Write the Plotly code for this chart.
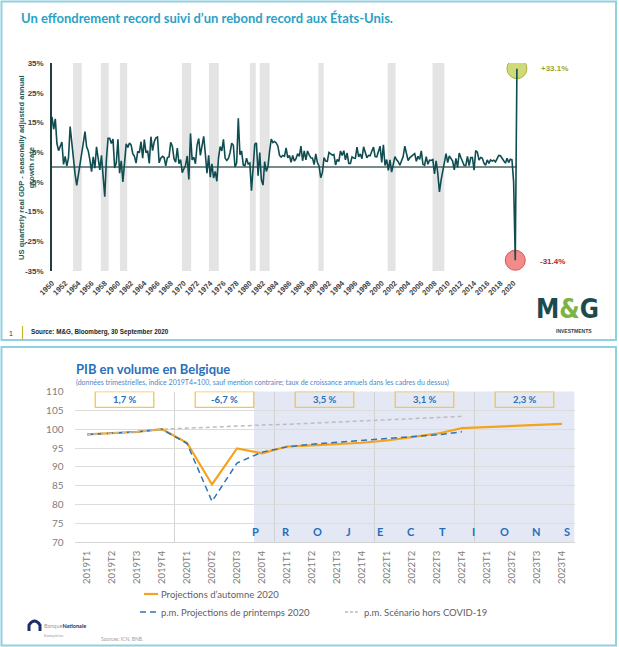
import plotly.graph_objects as go

W, H = 619, 647
def px(x): return x / W
def py(y): return 1 - y / H

# ---------------- Top chart data: US quarterly real GDP growth (annualised, %) ----------------
us_first_year = 1950
us_growth = [
    16.9, 12.7, 16.2, 7.9,     # 1950
    5.5, 7.1, 8.4, 0.9,        # 1951
    3.6, 0.4, 3.1, 13.6,       # 1952
    7.6, 3.1, -2.4, -6.2,      # 1953
    -2.0, 0.4, 4.6, 8.1,       # 1954
    11.9, 6.8, 5.4, 2.3,       # 1955
    -1.6, 3.4, -0.4, 6.8,      # 1956
    2.6, -1.0, 3.9, -4.1,      # 1957
    -10.0, 2.6, 9.7, 9.7,      # 1958
    7.9, 9.4, -0.3, 1.4,       # 1959
    9.3, -2.1, 2.1, -5.0,      # 1960
    2.7, 7.8, 6.6, 8.1,        # 1961
    7.4, 4.5, 3.6, 1.3,        # 1962
    5.3, 4.8, 8.5, 3.0,        # 1963
    9.2, 4.8, 5.5, 1.2,        # 1964
    10.2, 5.5, 8.5, 9.8,       # 1965
    10.1, 1.4, 3.0, 3.6,       # 1966
    3.2, 0.4, 3.2, 3.4,        # 1967
    8.3, 7.0, 2.8, 1.6,        # 1968
    6.4, 1.1, 2.5, -1.9,       # 1969
    -0.6, 0.6, 3.7, -4.2,      # 1970
    11.3, 2.4, 3.3, 1.1,       # 1971
    7.4, 9.6, 3.9, 6.9,        # 1972
    10.3, 4.5, -2.1, 3.9,      # 1973
    -3.4, 1.1, -3.7, -1.5,     # 1974
    -4.8, 3.1, 6.9, 5.4,       # 1975
    9.3, 3.0, 2.2, 2.9,        # 1976
    4.8, 8.0, 7.3, 0.0,        # 1977
    1.3, 16.4, 4.1, 5.4,       # 1978
    0.7, 0.4, 3.0, 1.0,        # 1979
    1.3, -8.0, -0.5, 7.7,      # 1980
    8.1, -2.9, 4.9, -4.3,      # 1981
    -6.1, 1.8, -1.5, 0.2,      # 1982
    5.4, 9.4, 8.2, 8.6,        # 1983
    8.1, 7.1, 3.9, 3.3,        # 1984
    3.9, 3.6, 6.4, 3.1,        # 1985
    3.9, 1.6, 3.9, 2.0,        # 1986
    2.8, 4.5, 3.6, 7.0,        # 1987
    2.1, 5.4, 2.4, 5.4,        # 1988
    4.1, 3.1, 3.0, 0.8,        # 1989
    4.4, 1.5, 0.3, -3.6,       # 1990
    -1.9, 3.2, 2.0, 1.9,       # 1991
    4.9, 4.4, 4.0, 4.2,        # 1992
    0.7, 2.5, 1.9, 5.4,        # 1993
    3.9, 5.5, 2.4, 4.7,        # 1994
    1.2, 1.2, 3.4, 3.0,        # 1995
    2.9, 6.7, 3.4, 4.4,        # 1996
    2.8, 6.8, 5.1, 3.1,        # 1997
    3.9, 3.8, 5.3, 6.7,        # 1998
    3.5, 3.4, 5.2, 7.0,        # 1999
    1.5, 7.5, 0.5, 2.5,        # 2000
    -1.1, 2.4, -1.7, 1.1,      # 2001
    3.5, 2.4, 1.8, 0.6,        # 2002
    2.2, 3.5, 7.0, 4.7,        # 2003
    2.2, 3.1, 3.8, 4.1,        # 2004
    4.5, 1.9, 3.6, 2.6,        # 2005
    5.4, 0.9, 0.6, 3.5,        # 2006
    0.9, 2.3, 2.2, 2.5,        # 2007
    -2.3, 2.1, -2.1, -8.4,     # 2008
    -4.4, -0.6, 1.5, 4.5,      # 2009
    1.5, 3.7, 3.0, 2.0,        # 2010
    -1.0, 2.9, -0.1, 4.7,      # 2011
    3.2, 1.7, 0.5, 0.5,        # 2012
    3.6, 0.5, 3.2, 3.2,        # 2013
    -1.1, 5.5, 5.0, 2.3,       # 2014
    3.2, 3.0, 1.3, 0.6,        # 2015
    2.4, 1.2, 2.4, 2.0,        # 2016
    2.3, 1.7, 2.9, 3.9,        # 2017
    3.8, 2.7, 2.1, 1.3,        # 2018
    2.9, 1.5, 2.6, 2.4,        # 2019
    -5.0, -31.4, 33.1,         # 2020
]
us_x = [us_first_year + i / 4 for i in range(len(us_growth))]
us_year_ticks = list(range(1950, 2021, 2))
us_y_ticks = [35, 25, 15, 5, -5, -15, -25, -35]
recession_start = [1953.2, 1957.4, 1960.3, 1969.7, 1973.8, 1980.0, 1981.5, 1990.4, 2000.9, 2007.7]
recession_end = [1954.5, 1958.6, 1961.4, 1971.1, 1975.3, 1980.9, 1983.0, 1991.2, 2002.1, 2009.5]
us_high_label = "+33.1%"
us_low_label = "-31.4%"

# ---------------- Bottom chart data: Belgian GDP volume index ----------------
quarters = ["2019T1", "2019T2", "2019T3", "2019T4",
            "2020T1", "2020T2", "2020T3", "2020T4",
            "2021T1", "2021T2", "2021T3", "2021T4",
            "2022T1", "2022T2", "2022T3", "2022T4",
            "2023T1", "2023T2", "2023T3", "2023T4"]
autumn_2020 = [98.6, 98.9, 99.3, 100.0, 96.4, 85.3, 94.9, 93.6, 95.4, 95.7,
               96.0, 96.4, 97.0, 97.8, 98.8, 100.3, 100.6, 100.9, 101.1, 101.4]
spring_2020 = [98.6, 98.9, 99.3, 100.0, 96.2, 80.8, 91.0, 93.9, 95.3, 96.0,
               96.5, 96.9, 97.4, 97.9, 98.5, 99.3]
no_covid = [98.6, 98.9, 99.3, 100.0, 100.3, 100.5, 100.8, 101.1, 101.3, 101.6,
            101.9, 102.1, 102.4, 102.7, 103.0, 103.4]
annual_growth = ["1,7 %", "-6,7 %", "3,5 %", "3,1 %", "2,3 %"]
projection_letters = list("PROJECTIONS")
projection_start = 6.68

bx = list(range(len(quarters)))

TEAL = "#0f4d51"
fig = go.Figure()

# ---- top traces ----
fig.add_trace(go.Scatter(
    x=[us_x[-2], us_x[-1]], y=[us_growth[-2], us_growth[-1]], mode="markers",
    marker=dict(size=20, color=["rgba(240,120,120,0.85)", "rgba(200,212,100,0.85)"],
                line=dict(color=["#d9534f", "#a9b53c"], width=1)),
    xaxis="x", yaxis="y", showlegend=False, hoverinfo="skip"))
fig.add_trace(go.Scatter(
    x=us_x, y=us_growth, mode="lines", line=dict(color=TEAL, width=1.6),
    xaxis="x", yaxis="y", showlegend=False))

# ---- bottom traces ----
fig.add_trace(go.Scatter(x=bx, y=autumn_2020, mode="lines",
                         line=dict(color="#f5a31a", width=2.2),
                         xaxis="x2", yaxis="y2", showlegend=False))
fig.add_trace(go.Scatter(x=bx[:len(spring_2020)], y=spring_2020, mode="lines",
                         line=dict(color="#2e75b6", width=1.5, dash="6px,4px"),
                         xaxis="x2", yaxis="y2", showlegend=False))
fig.add_trace(go.Scatter(x=bx[:len(no_covid)], y=no_covid, mode="lines",
                         line=dict(color="#bdbdbd", width=1.5, dash="4px,3px"),
                         xaxis="x2", yaxis="y2", showlegend=False))

shapes = []
# panel borders
shapes.append(dict(type="rect", xref="paper", yref="paper", x0=px(1.5), x1=px(616), y0=py(340), y1=py(1.5),
                   line=dict(color="#8fd0e1", width=2), layer="below"))
shapes.append(dict(type="rect", xref="paper", yref="paper", x0=px(1.5), x1=px(616), y0=py(645.5), y1=py(347),
                   line=dict(color="#8fd0e1", width=2), layer="below"))
# recession bars
for s, e in zip(recession_start, recession_end):
    shapes.append(dict(type="rect", xref="x", yref="y domain", x0=s, x1=e, y0=0, y1=1,
                       fillcolor="#e4e4e4", line=dict(width=0), layer="below"))
# zero line
shapes.append(dict(type="line", xref="x", yref="y", x0=us_x[0], x1=us_x[-1], y0=0, y1=0,
                   line=dict(color="#4a6464", width=1.5), layer="below"))
# source bar
shapes.append(dict(type="line", xref="paper", yref="paper", x0=px(22.5), x1=px(22.5), y0=py(340), y1=py(326),
                   line=dict(color="#c9b734", width=1.2)))
# projection shading
shapes.append(dict(type="rect", xref="x2", yref="y2 domain", x0=projection_start, x1=len(quarters) - 0.5,
                   y0=0, y1=1, fillcolor="#e3e8f4", line=dict(width=0), layer="below"))
# growth boxes
for i, g in enumerate(annual_growth):
    c = 4 * i + 1.5
    shapes.append(dict(type="rect", xref="x2", yref="y2", x0=c - 1.17, x1=c + 1.17, y0=105.8, y1=110,
                       line=dict(color="#f3c748", width=1.3), fillcolor="rgba(0,0,0,0)"))
# manual legend samples
shapes.append(dict(type="line", xref="paper", yref="paper", x0=px(144), x1=px(158), y0=py(594), y1=py(594),
                   line=dict(color="#f5a31a", width=2.2)))
shapes.append(dict(type="line", xref="paper", yref="paper", x0=px(140), x1=px(157), y0=py(612), y1=py(612),
                   line=dict(color="#2e75b6", width=1.5, dash="6px,4px")))
shapes.append(dict(type="line", xref="paper", yref="paper", x0=px(345), x1=px(359), y0=py(612), y1=py(612),
                   line=dict(color="#bdbdbd", width=1.5, dash="3px,2px")))
# BNB logo arch
shapes.append(dict(type="path", xref="paper", yref="paper",
                   path=f"M {px(29)} {py(631)} L {px(29)} {py(625)} Q {px(34.5)} {py(617)} {px(40)} {py(625)} L {px(40)} {py(631)}",
                   line=dict(color="#1c2f6b", width=3)))

ann = []
def A(x, y, text, size, color, family="Liberation Sans", xanchor="left", weight="normal", **kw):
    ann.append(dict(x=px(x), y=py(y), xref="paper", yref="paper", text=text, showarrow=False,
                    xanchor=xanchor, yanchor="middle",
                    font=dict(size=size, color=color, family=family, weight=weight), **kw))

A(19, 18, "Un effondrement record suivi d’un rebond record aux États-Unis.", 13, "#2aa2c5", "Lato", weight=700)
A(26, 168, "US quarterly real GDP - seasonally adjusted annual<br>growth rate", 7.6, "#1e5b5e",
  xanchor="center", weight=700, textangle=-90)
A(539, 69, us_high_label, 8, "#9ba72b", weight=700)
A(538, 261, us_low_label, 8, "#b3232f", weight=700)
A(7, 333, "1", 7, "#333333")
A(29, 332, "Source: M&amp;G, Bloomberg, 30 September 2020", 6.3, "#222222", weight=700)
A(567, 309, "M<span style='color:#7cb342'>&amp;</span>G", 26, "#1b4b4f", "DejaVu Sans Condensed",
  xanchor="center", weight=700)
A(574, 331, "INVESTMENTS", 5, "#1b4b4f", xanchor="center", weight=700)

A(74, 369, "PIB en volume en Belgique", 13, "#2a6fba", "Lato", weight=700)
A(74, 382, "(données trimestrielles, indice 2019T4=100, sauf mention contraire; taux de croissance annuels dans les cadres du dessus)",
  7, "#4d87c7", "Lato")
A(159, 594, "Projections d’automne 2020", 9.5, "#606060", "Lato")
A(159, 612, "p.m. Projections de printemps 2020", 9.5, "#606060", "Lato")
A(362, 612, "p.m. Scénario hors COVID-19", 9.5, "#606060", "Lato")
A(42, 626, "Banque<b><span style='color:#1c2f6b'>Nationale</span></b>", 5.5, "#9a9a9a", "Lato")
A(42, 636, "Eurosystème", 3.5, "#9a9a9a", "Lato")
A(99, 639, "Sources: ICN, BNB.", 5, "#a0a0a0", "Lato")

for i, g in enumerate(annual_growth):
    ann.append(dict(x=4 * i + 1.5, y=107.9, xref="x2", yref="y2", text=g, showarrow=False,
                    font=dict(size=9.5, color="#2a6fba", family="Lato", weight=700)))
n = len(projection_letters)
for i, ch in enumerate(projection_letters):
    xi = projection_start + 0.05 + i * (19.2 - projection_start - 0.05) / (n - 1)
    ann.append(dict(x=xi, y=72.8, xref="x2", yref="y2", text=ch, showarrow=False,
                    font=dict(size=11, color="#1f6fc0", family="Lato", weight=700)))

fig.update_layout(
    width=W, height=H, margin=dict(l=0, r=0, t=0, b=0, autoexpand=False),
    paper_bgcolor="white", plot_bgcolor="rgba(0,0,0,0)",
    showlegend=False, shapes=shapes, annotations=ann,
    xaxis=dict(domain=[px(52), px(540)], range=[1950, 2024], anchor="y", automargin=False,
               tickmode="array", tickvals=us_year_ticks, ticktext=[str(t) for t in us_year_ticks],
               tickangle=-45, tickfont=dict(size=7.5, color="#444444", family="Liberation Sans", weight=700),
               showgrid=False, zeroline=False, showline=False, ticks="outside", ticklen=4,
               tickcolor="rgba(0,0,0,0)"),
    yaxis=dict(domain=[py(271), py(63)], range=[-35, 35], anchor="x", automargin=False,
               tickmode="array", tickvals=us_y_ticks, ticktext=[f"{t}%" for t in us_y_ticks],
               tickfont=dict(size=8, color="#444444", family="Liberation Sans", weight=700),
               showgrid=False, zeroline=False, showline=True, linecolor="#1f3f3f", linewidth=1.5,
               ticks="outside", ticklen=5, tickcolor="rgba(0,0,0,0)"),
    xaxis2=dict(domain=[px(74.5), px(574.5)], range=[-0.5, len(quarters) - 0.5], anchor="y2", automargin=False,
                tickmode="array", tickvals=bx, ticktext=quarters, tickangle=-90,
                tickfont=dict(size=9.5, color="#808080", family="Lato"),
                showgrid=False, zeroline=False, showline=True, linecolor="#d4d4d4", linewidth=1,
                ticks="outside", ticklen=4, tickcolor="rgba(0,0,0,0)",
                minor=dict(tickmode="array", tickvals=[3.5, 7.5, 11.5, 15.5], showgrid=True,
                           gridcolor="#d3d3d3", gridwidth=1)),
    yaxis2=dict(domain=[py(542), py(391.6)], range=[70, 110], anchor="x2", automargin=False,
                tickmode="array", tickvals=list(range(70, 111, 5)),
                tickfont=dict(size=10, color="#808080", family="Lato"),
                showgrid=True, gridcolor="#dcdcdc", gridwidth=1, zeroline=False, showline=False,
                ticks="outside", ticklen=8, tickcolor="rgba(0,0,0,0)"),
)

fig.write_html("out.html")
